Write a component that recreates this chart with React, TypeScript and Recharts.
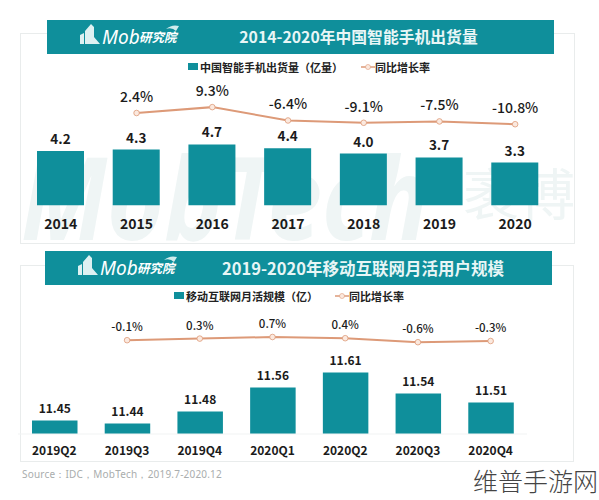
import { ComposedChart, Bar, Line, XAxis, YAxis, LabelList } from 'recharts';

const shipmentYears = ['2014', '2015', '2016', '2017', '2018', '2019', '2020'];
const shipmentValues = [4.2, 4.3, 4.7, 4.4, 4.0, 3.7, 3.3];
const shipmentGrowth = [null, 2.4, 9.3, -6.4, -9.1, -7.5, -10.8];

const mauQuarters = ['2019Q2', '2019Q3', '2019Q4', '2020Q1', '2020Q2', '2020Q3', '2020Q4'];
const mauValues = [11.45, 11.44, 11.48, 11.56, 11.61, 11.54, 11.51];
const mauGrowth = [null, -0.1, 0.3, 0.7, 0.4, -0.6, -0.3];

const TEAL = '#0F8F9B';
const ORANGE = '#DD9A78';
const DOT = '#FBE9DF';
const INK = '#1B1B1B';
const FONT = '"Noto Sans CJK SC", "Noto Sans", sans-serif';

const shipmentData = shipmentYears.map((name, i) => ({ name, value: shipmentValues[i], growth: shipmentGrowth[i] }));
const mauData = mauQuarters.map((name, i) => ({ name, value: mauValues[i], growth: mauGrowth[i] }));

const fmtGrowth = (v: any) => (v == null ? '' : `${v}%`);

function Header({ left, top, title, titleX, titleSize }: any) {
  return (
    <div style={{ position: 'absolute', left, top, width: 507, height: 34, background: TEAL, color: '#fff' }}>
      <svg width={24} height={24} style={{ position: 'absolute', left: 32, top: 3 }}>
        <path d="M1 21 L1 12 L5 10 L5 21 Z M6 21 L6 8 L12 1 L15 4 L15 14 L21 21 Z" fill="#DDF1F2" />
      </svg>
      <svg width={16} height={10} style={{ position: 'absolute', left: 118, top: 4 }}>
        <path d="M1 5 Q7 0 14 2 L11 7 Q7 3 1 5 Z" fill="#CFEBEC" />
      </svg>
      <span style={{ position: 'absolute', left: 55, top: 3, fontFamily: '"Noto Sans", sans-serif', fontStyle: 'italic', fontSize: 19, lineHeight: '28px' }}>Mob</span>
      <span style={{ position: 'absolute', left: 92, top: 8, fontFamily: FONT, fontStyle: 'italic', fontSize: 12.5, fontWeight: 700, lineHeight: '18px' }}>研究院</span>
      <span style={{ position: 'absolute', left: titleX, top: 0, transform: 'translateX(-50%)', fontFamily: FONT, fontWeight: 700, fontSize: titleSize, lineHeight: '34px', whiteSpace: 'nowrap', color: '#E8F6F6' }}>{title}</span>
    </div>
  );
}

function LegendRow({ left, top, barName, lineX }: any) {
  const text = { position: 'absolute' as const, top: 0, fontFamily: FONT, fontSize: 11, fontWeight: 700, lineHeight: '16px', color: '#222', whiteSpace: 'nowrap' as const };
  return (
    <div style={{ position: 'absolute', left, top, height: 16 }}>
      <div style={{ position: 'absolute', left: 0, top: 4, width: 10, height: 7, background: TEAL }} />
      <span style={{ ...text, left: 12 }}>{barName}</span>
      <svg width={14} height={16} style={{ position: 'absolute', left: lineX, top: 0 }}>
        <line x1={0} x2={14} y1={8} y2={8} stroke={ORANGE} strokeWidth={1.5} />
        <circle cx={7} cy={8} r={2.5} fill={DOT} stroke={ORANGE} strokeWidth={0.6} />
      </svg>
      <span style={{ ...text, left: lineX + 14 }}>同比增长率</span>
    </div>
  );
}

function Panel({ top, data, left, right, barSize, barDomain, lineDomain, tickSize, labelSize, growthSize, baseline }: any) {
  const plotTop = top === 0 ? 75.5 : 64;
  const plotHeight = top === 0 ? 130 : 120;
  return (
    <div style={{ position: 'absolute', left: 0, top }}>
      <ComposedChart
        width={599}
        height={250}
        data={data}
        margin={{ top: plotTop, right, bottom: 250 - plotTop - plotHeight - 30, left }}
      >
        <XAxis
          dataKey="name"
          xAxisId={0}
          height={30}
          interval={0}
          tickLine={false}
          axisLine={baseline ? { stroke: '#F1F3F3' } : false}
          tickMargin={top === 0 ? 8 : 6}
          tick={{ fill: INK, fontSize: tickSize, fontWeight: 700, fontFamily: FONT }}
        />
        <YAxis yAxisId="bar" hide domain={barDomain} allowDataOverflow />
        <YAxis yAxisId="line" hide orientation="right" domain={lineDomain} allowDataOverflow />
        <Bar yAxisId="bar" dataKey="value" fill={TEAL} barSize={barSize} isAnimationActive={false}>
          <LabelList
            dataKey="value"
            position="top"
            offset={top === 0 ? 7 : 8}
            formatter={(v: any) => (top === 0 ? Number(v).toFixed(1) : Number(v).toFixed(2))}
            style={{ fill: INK, fontSize: labelSize, fontWeight: 700, fontFamily: FONT }}
          />
        </Bar>
        <Line
          yAxisId="line"
          dataKey="growth"
          stroke={ORANGE}
          strokeWidth={2}
          dot={{ r: 2.8, fill: DOT, stroke: ORANGE, strokeWidth: 0.8 }}
          isAnimationActive={false}
        >
          <LabelList
            dataKey="growth"
            position="top"
            offset={top === 0 ? 11 : 9}
            formatter={fmtGrowth}
            style={{ fill: INK, fontSize: growthSize, fontWeight: 500, fontFamily: FONT }}
          />
        </Line>
      </ComposedChart>
    </div>
  );
}

export default function App() {
  return (
    <div style={{ position: 'absolute', left: 0, top: 0, width: 599, height: 500, background: '#fff', overflow: 'hidden' }}>
      <div style={{ position: 'absolute', left: 20, top: 33, width: 555, height: 211, border: '1px solid #E9ECEC', boxSizing: 'border-box' }} />
      <div style={{ position: 'absolute', left: 20, top: 265, width: 554, height: 197, border: '1px solid #E9ECEC', boxSizing: 'border-box' }} />

      <div style={{ position: 'absolute', left: 21, top: 125, width: 552, height: 118, color: '#EFF5F5', whiteSpace: 'nowrap' }}>
        <span style={{ position: 'absolute', left: 0, top: 0, transform: 'scaleX(0.85)', transformOrigin: 'left', fontFamily: '"Noto Sans", sans-serif', fontStyle: 'italic', fontWeight: 700, fontSize: 115, lineHeight: '118px', marginTop: 12, height: 106, display: 'block', overflow: 'visible' }}>MobTech</span>
        <span style={{ position: 'absolute', left: 442, top: 26, fontFamily: FONT, fontSize: 56, lineHeight: '80px' }}>袤博</span>
      </div>

      <Panel
        top={0}
        data={shipmentData}
        left={23}
        right={46}
        barSize={47}
        barDomain={[0, 10]}
        lineDomain={[-106.4, 46.5]}
        tickSize={14}
        labelSize={13.5}
        growthSize={14}
      />
      <Panel
        top={250}
        data={mauData}
        left={18}
        right={72}
        barSize={45.5}
        barDomain={[11.405, 11.805]}
        lineDomain={[-23.55, 6.45]}
        tickSize={12}
        labelSize={12}
        growthSize={11.5}
        baseline
      />

      <Header left={47} top={20} title="2014-2020年中国智能手机出货量" titleX={311.5} titleSize={15.8} />
      <Header left={45} top={251} title="2019-2020年移动互联网月活用户规模" titleX={318} titleSize={16.5} />

      <LegendRow left={188} top={59} barName="中国智能手机出货量（亿量）" lineX={173} />
      <LegendRow left={174} top={288} barName="移动互联网月活规模（亿）" lineX={161} />

      <div style={{ position: 'absolute', left: 22, top: 466, fontFamily: '"Noto Sans", sans-serif', fontSize: 10, letterSpacing: 0.2, lineHeight: '16px', color: '#A9ADAD', whiteSpace: 'nowrap' }}>
        Source：IDC，MobTech，2019.7-2020.12
      </div>
      <div style={{ position: 'absolute', left: 473, top: 465, fontFamily: FONT, fontWeight: 300, fontSize: 25, lineHeight: '30px', color: '#444', whiteSpace: 'nowrap' }}>
        维普手游网
      </div>
    </div>
  );
}
